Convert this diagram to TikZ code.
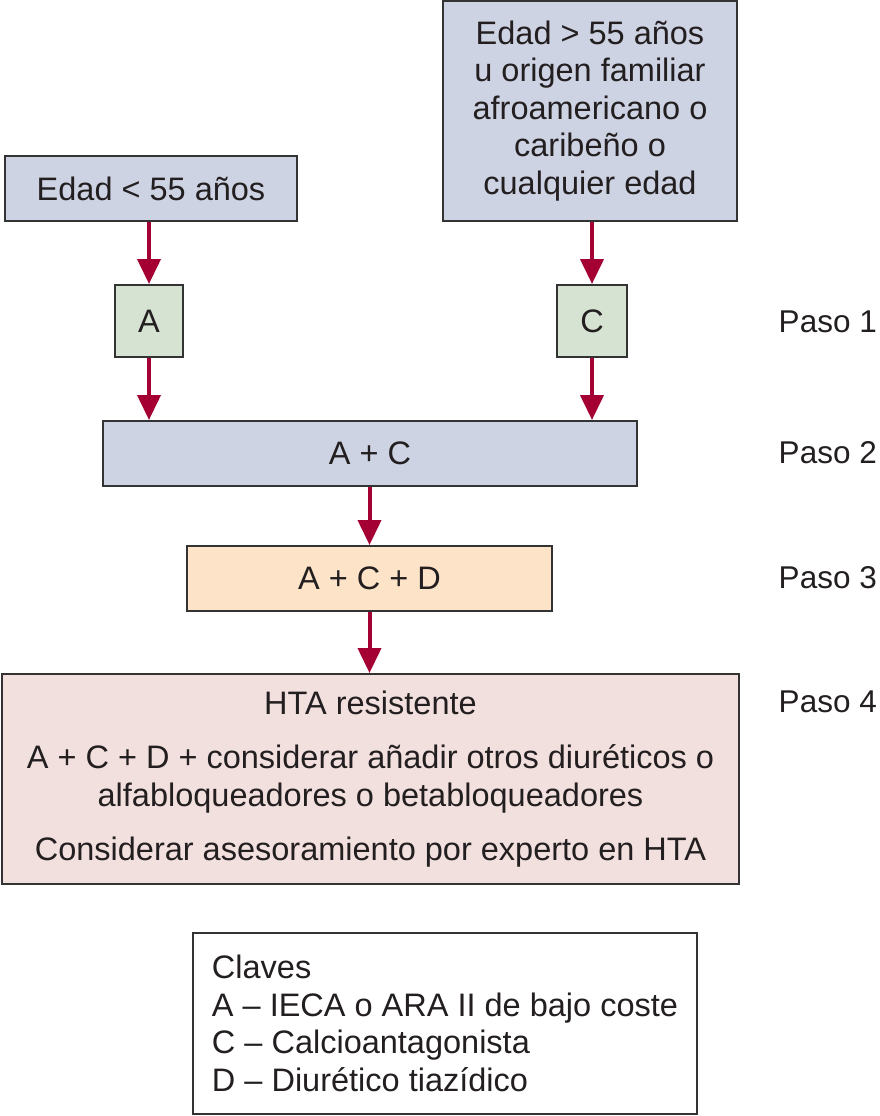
\documentclass[tikz,border=0pt]{standalone}
\usepackage{fontspec}
\setmainfont{Liberation Sans}
\usetikzlibrary{arrows.meta,calc}
\definecolor{lav}{HTML}{CED3E3}
\definecolor{grn}{HTML}{D6E3D3}
\definecolor{pch}{HTML}{FDE4C8}
\definecolor{pnk}{HTML}{F2E0DE}
\definecolor{arr}{HTML}{A50034}
\definecolor{edge}{HTML}{333333}
\definecolor{txt}{HTML}{231F20}
\begin{document}
\begin{tikzpicture}[x=1pt,y=-1pt,
  box/.style={draw=edge,line width=2pt,inner sep=0pt,align=center,anchor=center,
    text=txt,font=\fontsize{32.5}{37.5}\selectfont},
  lbl/.style={anchor=east,inner sep=0pt,text=txt,font=\fontsize{31.5}{37.5}\selectfont},
  flow/.style={draw=arr,line width=4pt,-{Triangle[length=25pt,width=23pt]}}]
\useasboundingbox (0,0) rectangle (879,1116);
\node[box,fill=lav,minimum width=292pt,minimum height=65pt] (e1) at (151,188.5) {Edad < 55 años};
\node[box,fill=lav,minimum width=294pt,minimum height=220pt] (e2) at (590,111) {Edad > 55 años\\u origen familiar\\afroamericano o\\caribeño o\\cualquier edad};
\node[box,fill=grn,minimum width=68pt,minimum height=72pt] (a) at (149,321) {A};
\node[box,fill=grn,minimum width=70pt,minimum height=72pt] (c) at (592,321) {C};
\node[box,fill=lav,minimum width=534pt,minimum height=65pt] (ac) at (370,453.5) {A + C};
\node[box,fill=pch,minimum width=365pt,minimum height=65pt] (acd) at (369.5,578.5) {A + C + D};
\node[box,fill=pnk,minimum width=737pt,minimum height=210pt] (hta) at (370.5,779) {HTA resistente\\[17pt]A + C + D + considerar añadir otros diuréticos o\\alfabloqueadores o betabloqueadores\\[17pt]Considerar asesoramiento por experto en HTA};
\node[box,fill=white,align=left,minimum width=504pt,minimum height=181pt] (cl) at (445,1023.5) {Claves\\A – IECA o ARA II de bajo coste\\C – Calcioantagonista\\D – Diurético tiazídico};
\node[lbl] (p1) at (877,322) {Paso 1};
\node[lbl] (p2) at (877,453) {Paso 2};
\node[lbl] (p3) at (877,578) {Paso 3};
\node[lbl] (p4) at (877,702) {Paso 4};
\draw[flow] (a.north|-e1.south) -- (a.north);
\draw[flow] (c.north|-e2.south) -- (c.north);
\draw[flow] (a.south) -- (a.south|-ac.north);
\draw[flow] (c.south) -- (c.south|-ac.north);
\draw[flow] (acd.north|-ac.south) -- (acd.north);
\draw[flow] (acd.south) -- (acd.south|-hta.north);
\end{tikzpicture}
\end{document}
